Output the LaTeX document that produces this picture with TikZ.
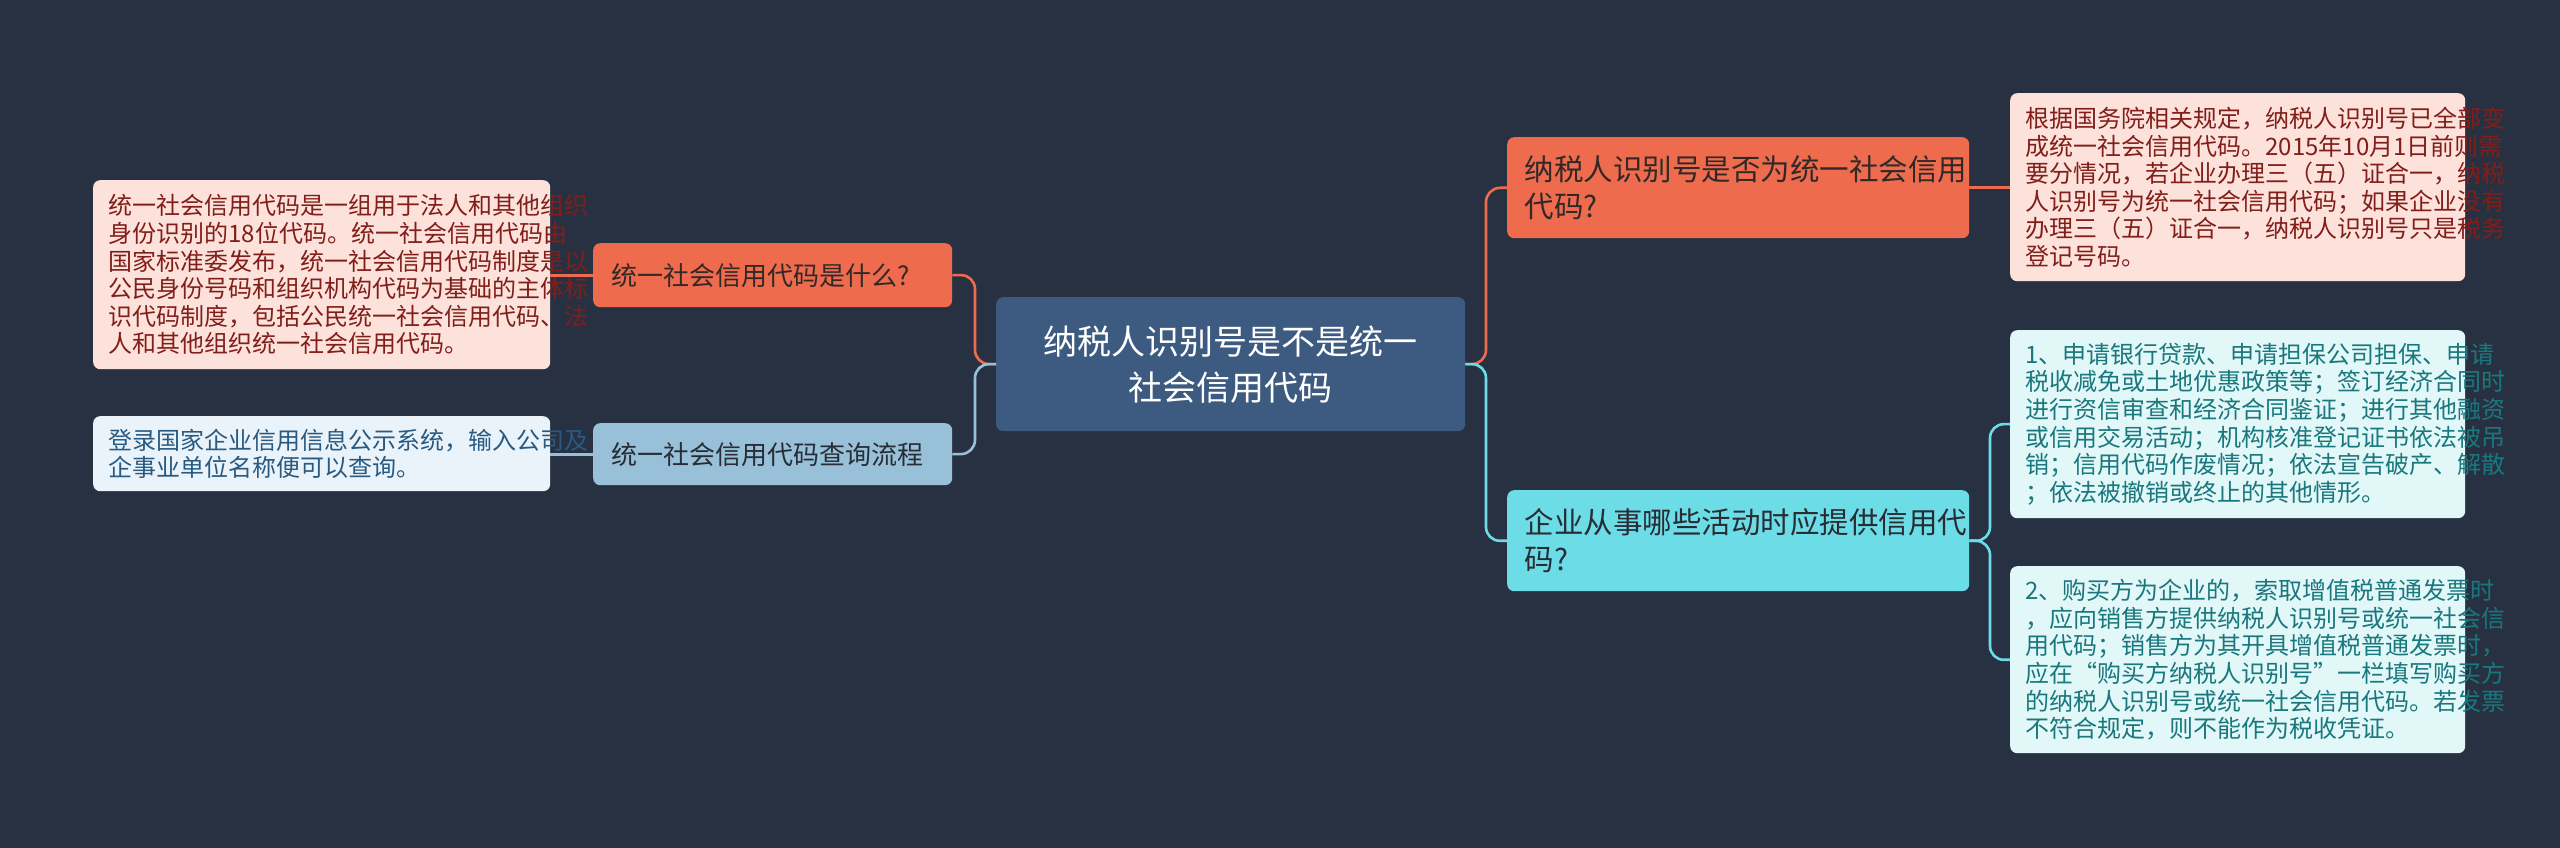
\documentclass[tikz,border=0pt]{standalone}
\usepackage{fontspec}
\setmainfont{Noto Sans CJK SC}
\begin{document}
\begin{tikzpicture}[x=1pt,y=-1pt,
  box/.style={rounded corners=7pt,inner sep=0pt,anchor=north west,align=left,text depth=0pt},
  leaftxt/.style={font=\fontsize{24}{27.6}\selectfont},
  con/.style={line width=2.6pt,rounded corners=14pt}]
\fill[fill={rgb,255:red,40;green,49;blue,66}] (0,0) rectangle (2560,848);
\useasboundingbox (0,0) rectangle (2560,848);
\definecolor{orn}{RGB}{238,108,77}
\definecolor{cyn}{RGB}{108,221,230}
\definecolor{lbl}{RGB}{152,193,217}
\definecolor{ctr}{RGB}{61,90,128}
% nodes
\node[box,fill=ctr,minimum width=469pt,minimum height=134pt] (c) at (996,297) {};
\node[text=white,align=center,font=\fontsize{34}{46}\selectfont] at (c.center) {纳税人识别号是不是统一\\社会信用代码};
\node[box,fill=orn,minimum width=359pt,minimum height=64pt] (l1) at (593,243) {};
\node[anchor=west,text={rgb,255:red,50;green,40;blue,40},font=\fontsize{26}{30}\selectfont] at ([xshift=15pt]l1.west) {统一社会信用代码是什么?};
\node[box,fill=lbl,minimum width=359pt,minimum height=62pt] (l2) at (593,423) {};
\node[anchor=west,text={rgb,255:red,40;green,44;blue,52},font=\fontsize{26}{30}\selectfont] at ([xshift=15pt]l2.west) {统一社会信用代码查询流程};
\node[box,fill=orn,minimum width=462pt,minimum height=101pt] (r1) at (1507,137) {};
\node[anchor=west,align=left,text={rgb,255:red,50;green,40;blue,40},font=\fontsize{29.5}{37}\selectfont] at ([xshift=14pt]r1.west) {纳税人识别号是否为统一社会信用\\代码?};
\node[box,fill=cyn,minimum width=462pt,minimum height=101pt] (r2) at (1507,490) {};
\node[anchor=west,align=left,text={rgb,255:red,40;green,44;blue,52},font=\fontsize{29.5}{37}\selectfont] at ([xshift=14pt]r2.west) {企业从事哪些活动时应提供信用代\\码?};
% leaves
\node[box,fill={rgb,255:red,253;green,226;blue,220},minimum width=457pt,minimum height=189pt] (a1) at (93,180) {};
\node[anchor=west,leaftxt,align=left,text={rgb,255:red,130;green,30;blue,25}] at ([xshift=12pt]a1.west) {统一社会信用代码是一组用于法人和其他组织\\身份识别的18位代码。统一社会信用代码由\\国家标准委发布，统一社会信用代码制度是以\\公民身份号码和组织机构代码为基础的主体标\\识代码制度，包括公民统一社会信用代码、法\\人和其他组织统一社会信用代码。};
\node[box,fill={rgb,255:red,234;green,243;blue,250},minimum width=457pt,minimum height=75pt] (a2) at (93,416) {};
\node[anchor=west,leaftxt,align=left,text={rgb,255:red,40;green,90;blue,130}] at ([xshift=12pt]a2.west) {登录国家企业信用信息公示系统，输入公司及\\企事业单位名称便可以查询。};
\node[box,fill={rgb,255:red,253;green,226;blue,220},minimum width=455pt,minimum height=188pt] (b1) at (2010,93) {};
\node[anchor=west,leaftxt,align=left,text={rgb,255:red,130;green,30;blue,25}] at ([xshift=12pt]b1.west) {根据国务院相关规定，纳税人识别号已全部变\\成统一社会信用代码。2015年10月1日前则需\\要分情况，若企业办理三（五）证合一，纳税\\人识别号为统一社会信用代码；如果企业没有\\办理三（五）证合一，纳税人识别号只是税务\\登记号码。};
\node[box,fill={rgb,255:red,226;green,247;blue,248},minimum width=455pt,minimum height=188pt] (b2) at (2010,330) {};
\node[anchor=west,leaftxt,align=left,text={rgb,255:red,25;green,120;blue,125}] at ([xshift=12pt]b2.west) {1、申请银行贷款、申请担保公司担保、申请\\税收减免或土地优惠政策等；签订经济合同时\\进行资信审查和经济合同鉴证；进行其他融资\\或信用交易活动；机构核准登记证书依法被吊\\销；信用代码作废情况；依法宣告破产、解散\\；依法被撤销或终止的其他情形。};
\node[box,fill={rgb,255:red,226;green,247;blue,248},minimum width=455pt,minimum height=187pt] (b3) at (2010,566) {};
\node[anchor=west,leaftxt,align=left,text={rgb,255:red,25;green,120;blue,125}] at ([xshift=12pt]b3.west) {2、购买方为企业的，索取增值税普通发票时\\，应向销售方提供纳税人识别号或统一社会信\\用代码；销售方为其开具增值税普通发票时，\\应在“购买方纳税人识别号”一栏填写购买方\\的纳税人识别号或统一社会信用代码。若发票\\不符合规定，则不能作为税收凭证。};
% connectors
\draw[con,draw=orn] (c.east) -- (1486,364) -- (1486,188) -- (r1.west);
\draw[con,draw=cyn] (c.east) -- (1486,364) -- (1486,541) -- (r2.west);
\draw[con,draw=orn] (c.west) -- (975,364) -- (975,275) -- (l1.east);
\draw[con,draw=lbl] (c.west) -- (975,364) -- (975,454) -- (l2.east);
\draw[con,draw=orn] (l1.west) -- (a1.east|-l1.west);
\draw[con,draw=lbl] (l2.west) -- (a2.east|-l2.west);
\draw[con,draw=orn] (r1.east) -- (b1.west|-r1.east);
\draw[con,draw=cyn] (r2.east) -- (1990,541) -- (1990,424) -- (b2.west);
\draw[con,draw=cyn] (r2.east) -- (1990,541) -- (1990,660) -- (b3.west);
\end{tikzpicture}
\end{document}
